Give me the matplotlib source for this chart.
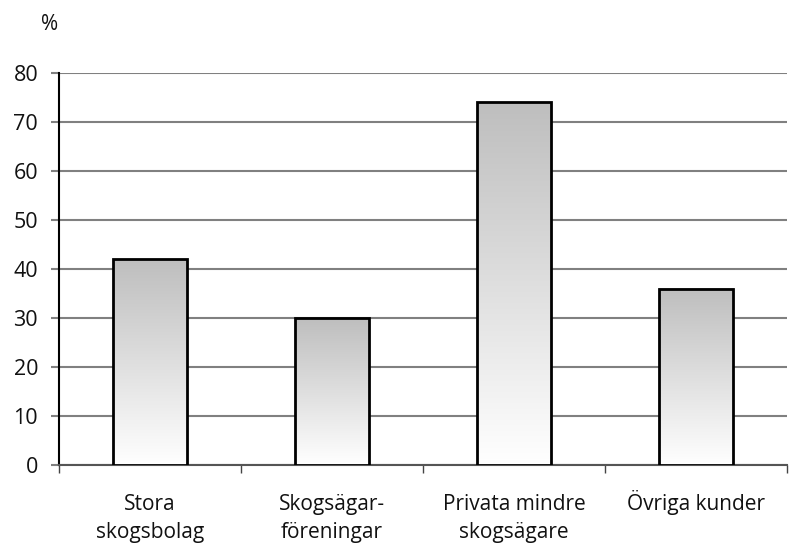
import numpy as np
import matplotlib
matplotlib.use("Agg")
import matplotlib.pyplot as plt
from matplotlib.colors import LinearSegmentedColormap

categories = ["Stora\nskogsbolag", "Skogsägar-\nföreningar", "Privata mindre\nskogsägare", "Övriga kunder\n "]
values = [42, 30, 74, 36]
yticks = [0, 10, 20, 30, 40, 50, 60, 70, 80]

plt.rcParams['font.family'] = ['Open Sans', 'DejaVu Sans']

fig = plt.figure(figsize=(7.89, 5.48), dpi=100)
ax = fig.add_axes([59/789, 1 - 465/548, 1 - 59/789 - 2/789, (465 - 73)/548])

x = np.arange(len(categories))
bars = ax.bar(x, values, width=0.41, facecolor='none', edgecolor='black', linewidth=2, zorder=4)

grad = np.linspace(1.0, 0.0, 256).reshape(-1, 1)
cmap = LinearSegmentedColormap.from_list('g', ['#ffffff', '#bebebe'])
for b in bars:
    bx, bw, bh = b.get_x(), b.get_width(), b.get_height()
    ax.imshow(grad, extent=[bx, bx + bw, 0, bh], aspect='auto', cmap=cmap,
              vmin=0, vmax=1, zorder=3, interpolation='bilinear')

ax.set_xlim(-0.5, len(categories) - 0.5)
ax.set_ylim(0, 80)
ax.set_yticks(yticks)
ax.set_yticklabels([str(t) for t in yticks], fontsize=15.5, color='#111111')
ax.yaxis.grid(True, color='#808080', linewidth=1.5, zorder=1)
ax.set_axisbelow(True)

ax.set_xticks(x)
ax.set_xticklabels(categories, fontsize=15, color='#111111', linespacing=1.45, va='baseline')
ax.tick_params(axis='x', which='major', length=0, pad=52.5)
ax.set_xticks(np.arange(len(categories) + 1) - 0.5, minor=True)
ax.tick_params(axis='x', which='minor', length=6, width=1, color='#444444', direction='out')
ax.tick_params(axis='y', length=6, width=1.5, color='#808080', pad=9)

for s in ['top', 'right']:
    ax.spines[s].set_visible(False)
ax.spines['left'].set_color('black')
ax.spines['left'].set_linewidth(1.5)
ax.spines['bottom'].set_color('#555555')
ax.spines['bottom'].set_linewidth(1.5)

fig.text(41/789, 1 - 24/548, '%', fontsize=15, color='#111111', va='center', ha='left')

fig.savefig('out.png', dpi=100)
